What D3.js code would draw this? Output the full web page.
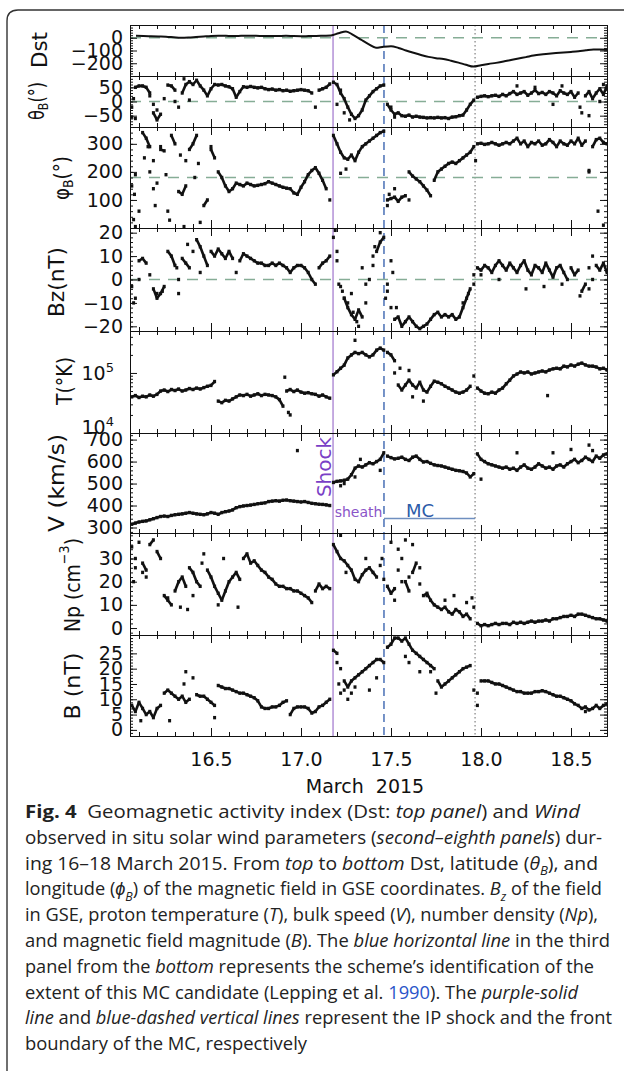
<!DOCTYPE html>
<html>
<head>
<meta charset="utf-8">
<script src="https://cdn.jsdelivr.net/npm/d3@7"></script>
<style>
  body { margin: 0; background: #fff; }
  svg { display: block; }
  text { white-space: pre; }
</style>
</head>
<body>
<script>
// ---- data ----
// Dst, hourly from 16 March 02 UT
const DST_START = 16 + 2 / 24;
const dstHourly = [
  15, 14, 12, 10, 8, 4, 0, 2, 6, 10,
  14, 16, 15, 14, 15, 16, 15, 14, 13, 14,
  15, 13, 12, 13, 14, 16, 18, 35, 50, 20,
  -15, -50, -78, -70, -66, -80, -100, -118, -135, -150,
  -160, -167, -180, -195, -212, -226, -215, -205, -197, -187,
  -175, -163, -152, -140, -132, -126, -120, -115, -111, -106,
  -98, -92, -92, -95
];

// Wind samples every 0.02 day from 16.06
const DAY0 = 16.06, STEP = 0.02;
const thetaB = [
  -20, 50, 55, 55, 50, 30, -40, -65, -45, 10,
  58, 55, 40, -20, 30, 60, 70, 60, 75, 55,
  40, 20, 45, 60, 58, 60, 55, 52, 45, 15,
  35, 52, 50, 53, 50, 48, 50, 45, 42, 44,
  40, 42, 38, 40, 36, 38, 40, 42, 40, 38,
  30, -20, 40, 45, 50, 62, 68, 60, 30, 10,
  -20, -45, -60, -50, -30, 5, 20, 35, 45, 55,
  58, -10, -30, -45, -40, -50, -52, -48, -55, -52,
  -55, -56, -58, -57, -58, -56, -58, -57, -60, -55,
  -54, -50, -48, -30, -10, 5, 15, 18, 20, 17,
  20, 22, 18, 25, 20, 28, 35, 25, 30, 35,
  22, 30, 40, 28, 32, 25, 35, 30, 20, 38,
  30, 25, 35, 15, 30, -40, 20, 35, 10, 30,
  45, 25, 55
];
const phiB = [
  150, 190, 60, 340, 320, 290, 240, 160, 280, 275,
  60, 330, 300, 130, 120, 150, 280, 300, 330, 20,
  80, 100, 280, 250, 200, 180, 150, 130, 140, 160,
  155, 150, 160, 155, 150, 152, 155, 158, 165, 160,
  155, 150, 145, 142, 140, 125, 120, 145, 165, 190,
  205, 215, 195, 170, 140, 100, 330, 300, 270, 250,
  245, 260, 240, 270, 290, 300, 310, 320, 330, 340,
  345, 100, 105, 110, 95, 110, 115, 200, 185, 175,
  165, 150, 135, 115, 170, 200, 210, 220, 230, 235,
  230, 240, 250, 260, 270, 290, 300, 302, 298, 300,
  305, 300, 295, 300, 305, 300, 310, 320, 300, 310,
  290, 305, 300, 310, 295, 300, 315, 305, 290, 310,
  300, 295, 310, 300, 320, 295, 310, 200, 290, 315,
  320, 305, 300
];
const bz = [
  -3, -8, 8, 9, 7, 2, -4, -8, -6, -3,
  12, 10, 6, 0, 9, 7, 5, 12, 17, 14,
  10, 6, 12, 10, 13, 11, 9, 12, 9, 3,
  8, 11, 10, 9, 8, 7, 7, 6, 6, 7,
  6, 7, 6, 5, 3, 5, 6, 6, 5, 3,
  0, -2, 5, 7, 8, 10, 18, 8, -3, -8,
  -12, -15, -17, -13, -16, -10, 0, 6, 12, 16,
  18, -5, -12, -17, -16, -20, -18, -16, -18, -20,
  -21, -20, -19, -17, -15, -14, -16, -15, -16, -15,
  -17, -16, -12, -8, -4, 2, 5, 4, 6, 5,
  3, 6, 8, 6, 4, 7, 5, 3, 6, 8,
  4, 2, 6, 5, 3, 7, 4, 1, 5, 6,
  3, 0, 5, 2, 4, -5, -2, 5, 0, 6,
  4, 7, 3
];
const tempK = [
  40000, 42000, 39000, 41000, 40000, 43000, 41000, 44000, 50000, 52000,
  49000, 53000, 51000, 54000, 50000, 52000, 55000, 53000, 56000, 54000,
  57000, 60000, 62000, 72000, 34000, 32000, 35000, 34000, 37000, 40000,
  43000, 42000, 44000, 41000, 43000, 45000, 42000, 44000, 43000, 42000,
  40000, 36000, 28000, 50000, 53000, 49000, 52000, 48000, 46000, 47000,
  45000, 44000, 41000, 43000, 40000, 38000, 93000, 105000, 120000, 135000,
  178000, 200000, 220000, 210000, 220000, 200000, 185000, 200000, 240000, 260000,
  240000, 220000, 200000, 160000, 63000, 52000, 63000, 76000, 63000, 56000,
  70000, 52000, 48000, 60000, 73000, 70000, 66000, 60000, 56000, 52000,
  48000, 46000, 48000, 52000, 60000, 89000, 56000, 50000, 46000, 45000,
  48000, 46000, 52000, 56000, 66000, 76000, 89000, 96000, 104000, 100000,
  104000, 96000, 100000, 104000, 108000, 104000, 112000, 117000, 120000, 117000,
  130000, 126000, 136000, 130000, 140000, 146000, 136000, 130000, 130000, 126000,
  117000, 120000, 112000
];
const speed = [
  315, 320, 325, 328, 330, 335, 340, 345, 350, 352,
  350, 355, 358, 360, 362, 365, 368, 365, 362, 360,
  358, 362, 368, 365, 360, 368, 372, 375, 380, 390,
  395, 398, 400, 402, 405, 408, 410, 412, 418, 420,
  422, 420, 424, 425, 422, 420, 418, 416, 418, 414,
  410, 408, 406, 405, 403, 400, 505, 510, 512, 515,
  520, 540, 570, 580, 575, 585, 595, 590, 600, 610,
  640, 625, 618, 612, 615, 620, 610, 605, 620, 625,
  610, 598, 600, 592, 585, 582, 580, 575, 570, 565,
  560, 558, 555, 548, 530, 545, 635, 610, 600, 590,
  585, 580, 575, 570, 575, 565, 570, 560, 575, 585,
  570, 565, 575, 590, 580, 570, 575, 565, 580, 585,
  575, 590, 600, 610, 595, 605, 620, 610, 600, 625,
  615, 630, 635
];
const density = [
  35, 30, 37, 28, 25, 36, 38, 33, 30, 14,
  12, 10, 16, 20, 22, 18, 26, 24, 20, 18,
  32, 25, 22, 18, 15, 12, 16, 20, 22, 24,
  21, 30, 32, 28, 29, 27, 25, 24, 22, 21,
  19, 18, 18, 17, 17, 16, 16, 15, 14, 13,
  11, 16, 19, 17, 18, 17, 36, 33, 30, 29,
  27, 25, 21, 20, 23, 25, 26, 24, 22, 27,
  21, 18, 15, 17, 25, 30, 20, 16, 24, 28,
  19, 14, 15, 12, 10, 9, 8, 9, 7, 6,
  8, 7, 5, 6, 4, 9, 2, 1, 1.5, 1,
  1.5, 2, 1.5, 2, 2, 1.5, 2.5, 2, 2.5, 2,
  2.5, 3, 2.5, 3, 3, 3.5, 3, 4, 4, 4.5,
  5, 5, 5.5, 5, 6, 6, 5.5, 5, 4.5, 4,
  4, 3.5, 3
];
const bMag = [
  8, 6, 9, 7, 5, 6, 4, 7, 8, 12,
  13, 12, 11, 10, 11, 9, 10, 17, 11.5, 11,
  11, 10, 9, 8, 14.5, 14, 13.5, 13.5, 13, 12.5,
  12, 12, 11.5, 11, 10.5, 9.5, 7.5, 7, 7, 7.5,
  7.5, 8, 9, 9.5, 5, 7, 7.5, 7.5, 7.5, 7,
  5.5, 6, 7.5, 8, 9, 10, 26, 25, 20, 16,
  14, 16, 17, 18, 19, 20, 21, 22, 23, 23,
  22, 27, 28, 30, 30, 29, 30, 28, 26, 25,
  24, 23, 22, 21, 20, 16, 14, 15, 16, 17,
  18, 19, 20, 20.5, 21, 13, 12, 16, 16, 16,
  15.5, 15, 15, 14.5, 14, 13.5, 13, 12.5, 12.5, 12,
  12, 12, 12.5, 12.5, 12.8, 12.5, 12, 11.5, 11, 11,
  10.5, 10, 9.5, 8.5, 8, 7, 7.5, 6.5, 7, 8,
  7, 8, 8.5
];

// scattered points away from the main trace: [day, value]
const thetaExtra = [[16.06, -55], [16.07, 10], [16.08, -60], [16.16, 20], [16.18, -10], [16.20, -30],
  [16.30, 0], [16.35, 80], [16.38, 5], [17.20, -10], [17.22, 40], [17.24, -40], [17.27, -65],
  [17.50, -20], [17.52, -55], [18.20, 55], [18.30, 50], [18.40, -10], [18.45, 55], [18.55, -20],
  [18.60, -50], [18.66, 0], [18.68, 60]];
const phiExtra = [[16.07, 30], [16.075, 120], [16.08, 5], [16.13, 250], [16.15, 290], [16.16, 200],
  [16.18, 140], [16.19, 80], [16.22, 290], [16.25, 190], [16.27, 28], [16.33, 260], [16.35, 5],
  [16.36, 240], [16.41, 180], [16.43, 230], [16.50, 290], [17.22, 195], [17.25, 210], [17.48, 80],
  [17.49, 120], [17.52, 140], [17.60, 100], [17.97, 240], [18.60, 205], [18.65, 60], [18.68, 10]];
const bzExtra = [[16.07, -10], [16.10, 0], [16.20, -6], [16.23, -5], [16.31, 5], [16.32, -6],
  [16.37, 15], [16.44, 3], [17.19, 21], [17.20, 12], [17.21, -2], [17.23, -5], [17.24, -8],
  [17.26, -10], [17.28, -6], [17.29, -14], [17.31, -18], [17.32, -20], [17.34, 5], [17.36, -2],
  [17.40, 10], [17.41, 14], [17.44, 20], [17.47, -8], [17.48, -2], [17.50, 8], [17.51, 3],
  [17.53, -12], [17.90, -10], [17.93, -6], [17.96, -2], [18.00, 2], [18.10, 0], [18.25, -4],
  [18.35, -3], [18.45, -2], [18.55, -7], [18.60, -4], [18.62, 10]];
const tempExtra = [[16.91, 85000], [16.93, 22000], [16.94, 20000], [17.30, 350000], [17.52, 100000],
  [17.55, 120000], [17.60, 110000], [17.62, 40000], [17.68, 34000], [18.37, 42000]];
const speedExtra = [[16.98, 650], [17.22, 490], [17.24, 500], [17.30, 530], [17.33, 610],
  [17.44, 560], [18.00, 520], [18.20, 640], [18.40, 640], [18.50, 655], [18.60, 675], [18.62, 650]];
const densityExtra = [[16.07, 20], [16.08, 26], [16.12, 24], [16.14, 22], [16.26, 13], [16.33, 9],
  [16.37, 8], [16.40, 14], [16.45, 28], [16.54, 10], [16.57, 30], [16.65, 9], [17.22, 40],
  [17.25, 24], [17.36, 30], [17.45, 30], [17.50, 37], [17.52, 12], [17.54, 34], [17.56, 20],
  [17.58, 38], [17.60, 22], [17.62, 36], [17.66, 26], [17.70, 14], [17.80, 12], [17.85, 14],
  [17.92, 11], [17.95, 13]];
const bExtra = [[16.11, 3], [16.27, 3], [16.35, 15], [16.36, 19], [16.52, 4], [17.20, 22],
  [17.21, 15], [17.22, 12], [17.24, 13], [17.26, 10], [17.28, 12], [17.30, 14], [17.38, 13],
  [17.42, 17], [17.58, 24], [17.60, 22], [17.66, 19], [17.72, 19], [17.75, 12], [17.98, 8], [18.58, 6]];

// event times (day of March 2015)
const SHOCK = 17.178, MC_START = 17.461, MC_END = 17.967;
const xMajorTicks = [16.5, 17.0, 17.5, 18.0, 18.5];

// ---- layout ----
const W = 624, H = 1071;
const L = 130, R = 607;
const svg = d3.select('body').append('svg').attr('width', W).attr('height', H);
const defs = svg.append('defs');
const x = d3.scaleLinear().domain([16.05, 18.70]).range([L, R]);
const TICK_FONT = '"DejaVu Sans", sans-serif';

const sampled = arr => arr.map((v, i) => [DAY0 + i * STEP, v]);

const panels = [
  { key: 'dst', top: 25, bottom: 76, domain: [-300, 100], major: [-200, -100, 0], step: 20, ref: 0,
    line: dstHourly.map((v, i) => [DST_START + i / 24, v]),
    label: [['Dst']], lx: 40, ly: 50, llen: 36 },
  { key: 'theta', top: 76, bottom: 127, domain: [-90, 90], major: [-50, 0, 50], step: 10, ref: 0,
    pts: sampled(thetaB), extra: thetaExtra,
    label: [['θ'], ['B', 'sub'], ['(°)']], lx: 37, ly: 101, llen: 38 },
  { key: 'phi', top: 127, bottom: 228, domain: [0, 360], major: [100, 200, 300], step: 20, ref: 180,
    pts: sampled(phiB), extra: phiExtra,
    label: [['φ'], ['B', 'sub'], ['(°)']], lx: 62, ly: 178, llen: 44 },
  { key: 'bz', top: 228, bottom: 331, domain: [-22, 22], major: [-20, -10, 0, 10, 20], step: 2, ref: 0,
    pts: sampled(bz), extra: bzExtra,
    label: [['Bz(nT)']], lx: 57, ly: 282, llen: 70 },
  { key: 't', top: 331, bottom: 433, domain: [1e4, 5e5], log: true, major: [1e4, 1e5], ref: null,
    pts: sampled(tempK), extra: tempExtra,
    label: [['T(°K)']], lx: 65, ly: 381, llen: 48 },
  { key: 'v', top: 433, bottom: 533, domain: [275, 730], major: [300, 400, 500, 600, 700], step: 20, ref: null,
    pts: sampled(speed), extra: speedExtra,
    label: [['V (km/s)']], lx: 57, ly: 483, llen: 98 },
  { key: 'np', top: 533, bottom: 635, domain: [-3, 41], major: [0, 10, 20, 30], step: 2, ref: null,
    pts: sampled(density), extra: densityExtra,
    label: [['Np (cm'], ['−3', 'sup'], [')']], lx: 73, ly: 585, llen: 94 },
  { key: 'b', top: 635, bottom: 736, domain: [-2, 31], major: [0, 5, 10, 15, 20, 25], step: 1, ref: null,
    pts: sampled(bMag), extra: bExtra,
    label: [['B (nT)']], lx: 73, ly: 686, llen: 67 }
];

// rich text helper: parts = [[text, 'style words']]
function rich(sel, parts, size) {
  let shift = 0;
  parts.forEach(([txt, st = '']) => {
    const s = st.split(' ');
    const ts = sel.append('tspan').text(txt);
    let target = 0;
    if (s.includes('sub')) { target = size * 0.3; ts.attr('font-size', size * 0.68); }
    if (s.includes('sup')) { target = -size * 0.42; ts.attr('font-size', size * 0.68); }
    if (s.includes('bold')) ts.attr('font-weight', 700);
    if (s.includes('it')) ts.attr('font-style', 'italic');
    if (s.includes('link')) ts.attr('fill', '#2a54c9');
    if (target !== shift) { ts.attr('dy', target - shift); shift = target; }
  });
}

// outer frame
svg.append('path').attr('d', 'M7,1071 V21 Q7,10 18,10 H624')
  .attr('fill', 'none').attr('stroke', '#333').attr('stroke-width', 1.4);

// event markers (full height)
const top0 = panels[0].top, bot0 = panels[panels.length - 1].bottom;
svg.append('line').attr('x1', x(SHOCK)).attr('x2', x(SHOCK)).attr('y1', top0).attr('y2', bot0)
  .attr('stroke', '#a77fd0').attr('stroke-width', 1.3);
svg.append('line').attr('x1', x(MC_START)).attr('x2', x(MC_START)).attr('y1', top0).attr('y2', bot0)
  .attr('stroke', '#3c65b0').attr('stroke-width', 1.4).attr('stroke-dasharray', '8,5');
svg.append('line').attr('x1', x(MC_END)).attr('x2', x(MC_END)).attr('y1', top0).attr('y2', bot0)
  .attr('stroke', '#666').attr('stroke-width', 1).attr('stroke-dasharray', '1.5,2.5');

const cuts = [SHOCK, MC_START, MC_END].map(x);

panels.forEach((p, pi) => {
  const y = (p.log ? d3.scaleLog() : d3.scaleLinear()).domain(p.domain).range([p.bottom, p.top]);
  const g = svg.append('g');

  defs.append('clipPath').attr('id', 'clip-' + p.key)
    .append('rect').attr('x', L).attr('y', p.top).attr('width', R - L).attr('height', p.bottom - p.top);
  const plot = g.append('g').attr('clip-path', `url(#clip-${p.key})`);

  if (p.ref !== null) {
    plot.append('line').attr('x1', L).attr('x2', R).attr('y1', y(p.ref)).attr('y2', y(p.ref))
      .attr('stroke', '#86ad96').attr('stroke-width', 1.3).attr('stroke-dasharray', '11,8');
  }

  if (p.line) {
    plot.append('path').datum(p.line)
      .attr('d', d3.line().x(d => x(d[0])).y(d => y(d[1])).curve(d3.curveMonotoneX))
      .attr('fill', 'none').attr('stroke', '#111').attr('stroke-width', 2);
  }

  if (p.pts) {
    const px = p.pts.map(d => [x(d[0]), y(d[1])]);
    const segs = [];
    for (let i = 1; i < px.length; i++) {
      const a = px[i - 1], b = px[i];
      const crosses = cuts.some(c => a[0] < c && b[0] >= c);
      if (!crosses && Math.abs(a[1] - b[1]) < 10) segs.push([a, b]);
    }
    plot.selectAll('line.seg').data(segs).join('line').attr('class', 'seg')
      .attr('x1', d => d[0][0]).attr('y1', d => d[0][1])
      .attr('x2', d => d[1][0]).attr('y2', d => d[1][1])
      .attr('stroke', '#111').attr('stroke-width', 2.6);
    const all = px.concat(p.extra.map(d => [x(d[0]), y(d[1])]));
    plot.selectAll('rect.pt').data(all).join('rect').attr('class', 'pt')
      .attr('x', d => d[0] - 1.5).attr('y', d => d[1] - 1.7)
      .attr('width', 3).attr('height', 3.4).attr('fill', '#111');
  }

  // y axes: minor comb + major ticks with labels, mirrored on the right
  let minor;
  if (p.log) {
    minor = [2, 3, 4, 5, 6, 7, 8, 9].map(k => k * 1e4).concat([2, 3, 4, 5].map(k => k * 1e5));
  } else {
    minor = d3.range(Math.ceil(p.domain[0] / p.step) * p.step, p.domain[1] + 1e-9, p.step);
  }
  const axisStyle = s => { s.attr('font-family', null).attr('font-size', null);
    s.selectAll('line, path').attr('stroke', '#111'); };

  g.append('g').attr('transform', `translate(${L},0)`)
    .call(d3.axisLeft(y).tickValues(minor).tickSize(-3).tickSizeOuter(0).tickFormat(''))
    .call(axisStyle);
  g.append('g').attr('transform', `translate(${R},0)`)
    .call(d3.axisRight(y).tickValues(minor).tickSize(-3).tickSizeOuter(0).tickFormat(''))
    .call(axisStyle);
  g.append('g').attr('transform', `translate(${R},0)`)
    .call(d3.axisRight(y).tickValues(p.major).tickSize(-7).tickSizeOuter(0).tickFormat(''))
    .call(axisStyle);
  const yl = g.append('g').attr('transform', `translate(${L},0)`)
    .call(d3.axisLeft(y).tickValues(p.major).tickSize(-7).tickSizeOuter(0).tickPadding(7)
      .tickFormat(p.log ? () => '10' : d3.format('d')))
    .call(axisStyle);
  yl.selectAll('text').attr('font-family', TICK_FONT).attr('font-size', 19).attr('fill', '#111');
  if (p.log) {
    yl.selectAll('.tick text').each(function (d) {
      const t = d3.select(this).attr('dx', -9);
      // the lowest decade label sits a little above its tick, as in the figure
      if (d === p.domain[0]) t.attr('y', -6);
      t.append('tspan').attr('dy', -8).attr('font-size', 13).text(Math.round(Math.log10(d)));
    });
  }

  // x ticks on top and bottom of every panel
  const xMinor = d3.range(161, 188).map(v => v / 10);
  [['axisTop', p.top], ['axisBottom', p.bottom]].forEach(([fn, yy]) => {
    g.append('g').attr('transform', `translate(0,${yy})`)
      .call(d3[fn](x).tickValues(xMinor).tickSize(-4).tickSizeOuter(0).tickFormat(''))
      .call(axisStyle);
    g.append('g').attr('transform', `translate(0,${yy})`)
      .call(d3[fn](x).tickValues(xMajorTicks).tickSize(-8).tickSizeOuter(0).tickFormat(''))
      .call(axisStyle);
  });

  // panel title, rotated
  const t = g.append('text')
    .attr('transform', `translate(${p.lx},${p.ly}) rotate(-90)`)
    .attr('text-anchor', 'middle').attr('dominant-baseline', 'central')
    .attr('font-family', TICK_FONT).attr('font-size', 21).attr('fill', '#111')
    .attr('textLength', p.llen).attr('lengthAdjust', 'spacingAndGlyphs');
  rich(t, p.label, 21);

  if (pi === panels.length - 1) {
    const xl = g.append('g').attr('transform', `translate(0,${p.bottom})`)
      .call(d3.axisBottom(x).tickValues(xMajorTicks).tickSize(0).tickPadding(17).tickFormat(d3.format('.1f')))
      .call(axisStyle);
    xl.select('.domain').remove();
    xl.selectAll('text').attr('font-family', TICK_FONT).attr('font-size', 19).attr('fill', '#111');
  }
});

// annotations in the speed panel
svg.append('text').attr('transform', `translate(${x(SHOCK) - 9},467) rotate(-90)`)
  .attr('text-anchor', 'middle').attr('dominant-baseline', 'central')
  .attr('font-family', TICK_FONT).attr('font-size', 20).attr('fill', '#7a3fc6').text('Shock');
svg.append('text').attr('x', (x(SHOCK) + x(MC_START)) / 2).attr('y', 517)
  .attr('text-anchor', 'middle').attr('font-family', TICK_FONT).attr('font-size', 14)
  .attr('fill', '#8a55c8').text('sheath');
svg.append('text').attr('x', 420).attr('y', 517).attr('text-anchor', 'middle')
  .attr('font-family', TICK_FONT).attr('font-size', 18).attr('fill', '#2d5ca8').text('MC');
svg.append('line').attr('x1', x(MC_START)).attr('x2', x(MC_END)).attr('y1', 518.5).attr('y2', 518.5)
  .attr('stroke', '#6f8fc0').attr('stroke-width', 1.6);

svg.append('text').attr('x', 365).attr('y', 793).attr('text-anchor', 'middle')
  .attr('font-family', TICK_FONT).attr('font-size', 19).attr('fill', '#111').text('March  2015');

// caption
const caption = [
  [[['Fig. 4', 'bold'], ['  Geomagnetic activity index (Dst: '], ['top panel', 'it'], [') and '], ['Wind', 'it']], 555],
  [[['observed in situ solar wind parameters ('], ['second–eighth panels', 'it'], [') dur-']], 577],
  [[['ing 16–18 March 2015. From '], ['top', 'it'], [' to '], ['bottom', 'it'], [' Dst, latitude ('], ['θ', 'it'], ['B', 'sub it'], ['), and']], 573],
  [[['longitude ('], ['ϕ', 'it'], ['B', 'sub it'], [') of the magnetic field in GSE coordinates. '], ['B', 'it'], ['z', 'sub it'], [' of the field']], 577],
  [[['in GSE, proton temperature ('], ['T', 'it'], ['), bulk speed ('], ['V', 'it'], ['), number density ('], ['Np', 'it'], ['),']], 573],
  [[['and magnetic field magnitude ('], ['B', 'it'], ['). The '], ['blue horizontal line', 'it'], [' in the third']], 585],
  [[['panel from the '], ['bottom', 'it'], [' represents the scheme’s identification of the']], 569],
  [[['extent of this MC candidate (Lepping et al. '], ['1990', 'link'], ['). The '], ['purple-solid', 'it']], 553],
  [[['line', 'it'], [' and '], ['blue-dashed vertical lines', 'it'], [' represent the IP shock and the front']], 587],
  [[['boundary of the MC, respectively']], 282]
];
caption.forEach(([parts, len], i) => {
  const t = svg.append('text').attr('x', 25).attr('y', 818 + i * 25.8)
    .attr('font-family', '"Open Sans", sans-serif').attr('font-size', 17.5).attr('fill', '#222')
    .attr('textLength', len).attr('lengthAdjust', 'spacingAndGlyphs');
  rich(t, parts, 17.5);
});
</script>
</body>
</html>
